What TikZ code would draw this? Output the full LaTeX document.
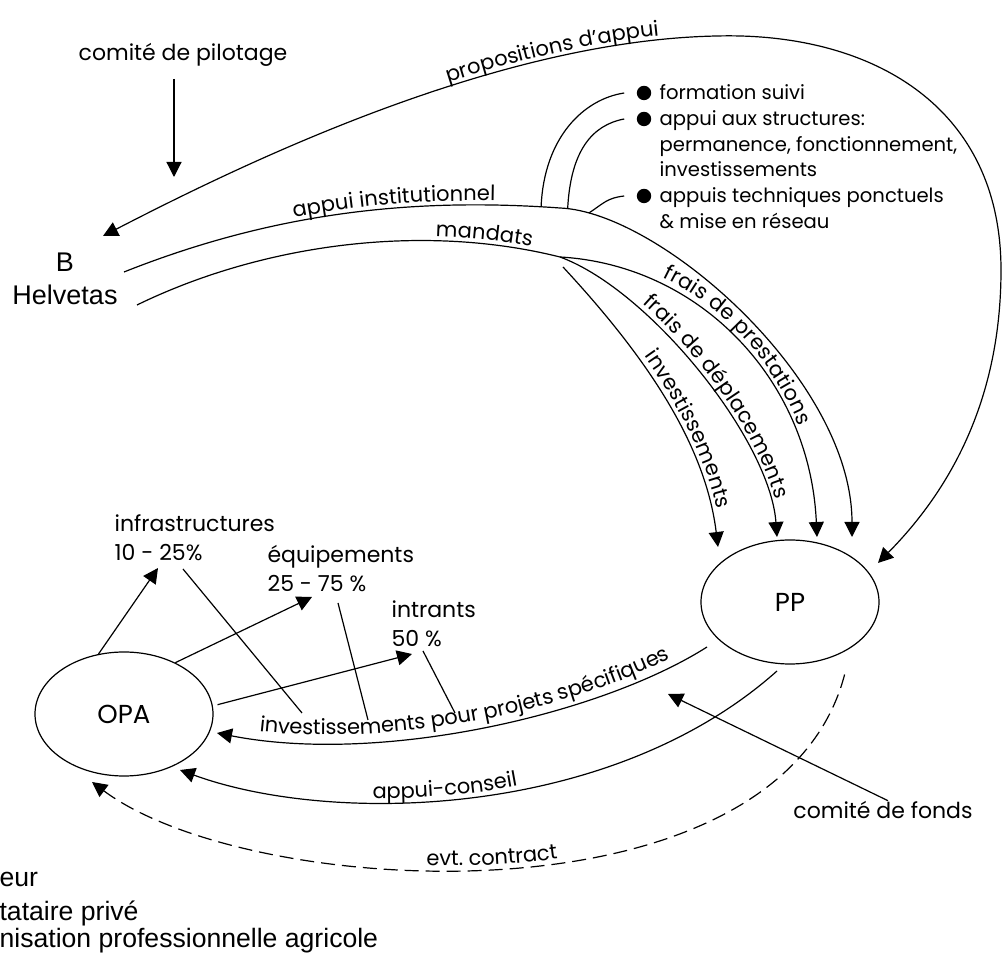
\documentclass[tikz,border=0pt]{standalone}
\usepackage{fontspec}
\setmainfont{Poppins}
\newfontfamily\arialfont{Liberation Sans}
\usetikzlibrary{arrows.meta, shapes.geometric, decorations.text}

\newcommand{\lblfont}{\fontsize{10.5}{12}\selectfont}

\tikzset{
  arr/.style={-{Triangle[length=7.5pt,width=7.5pt]}},
  rarr/.style={{Triangle[length=7.5pt,width=7.5pt]}-},
  darr/.style={{Triangle[length=7.5pt,width=7.5pt]}-{Triangle[length=7.5pt,width=7.5pt]}},
  lab/.style={font=\fontsize{11}{14.5}\selectfont, inner sep=0pt},
  listtxt/.style={font=\fontsize{9.8}{12.8}\selectfont, inner sep=0pt, align=left, anchor=north west},
  dot/.style={circle, fill, inner sep=0pt, minimum size=7.2pt},
  blob/.style={ellipse, draw, minimum width=89pt, minimum height=62pt, font=\fontsize{13}{15}\selectfont},
  legend/.style={font=\arialfont\fontsize{13.3}{15}\selectfont, inner sep=0pt, anchor=base west},
  along/.style n args={3}{postaction={decorate, decoration={text along path,
      text={|\lblfont|#1}, text align={left, left indent=#2}, raise=#3}}}
}

\begin{document}
\begin{tikzpicture}[x=0.5pt, y=-0.5pt, line width=0.6pt]
  \useasboundingbox (0,0) rectangle (1003,956);

  % actors
  \node[lab] (pilotage) at (183,55) {comité de pilotage};
  \node[font=\arialfont\fontsize{13.5}{16}\selectfont, inner sep=0pt] (B) at (65,262) {B};
  \node[font=\arialfont\fontsize{13.5}{16}\selectfont, inner sep=0pt] (helvetas) at (65,295) {Helvetas};
  \node[blob] (OPA) at (124,714) {OPA};
  \node[blob] (PP) at (790,602) {PP};
  \node[lab] (fonds) at (883,810) {comité de fonds};

  % free ends
  \coordinate (pil-a) at (174,79);
  \coordinate (pil-b) at (174,177);
  \coordinate (prop-b) at (103,236);
  \coordinate (inst-b) at (124,272);
  \coordinate (mand-b) at (137,305);
  \coordinate (pp-prop) at (878,563);
  \coordinate (pp-inst) at (852,537);
  \coordinate (pp-prest) at (817,537);
  \coordinate (pp-depl) at (777,537);
  \coordinate (pp-inv) at (718,547);
  \coordinate (pp-out-inv) at (707,647);
  \coordinate (pp-ac) at (777,671);
  \coordinate (pp-evt) at (845,673);
  \coordinate (opa-inv) at (217,733);
  \coordinate (opa-ac) at (180,770);
  \coordinate (opa-evt) at (92,782);
  \coordinate (fonds-tip) at (668,694);

  \draw[arr] (pil-a) -- (pil-b);

  % B -> PP
  \draw[darr, along={propositions d’appui}{189pt}{2pt}] (prop-b)
    .. controls (250,160) and (500,40) .. (717,36)
    .. controls (870,32) and (1001,105) .. (1001,270)
    .. controls (1001,400) and (950,490) .. (pp-prop);
  \draw[arr, along={appui institutionnel}{89pt}{2pt}] (inst-b)
    .. controls (280,210) and (420,198) .. (560,208) coordinate[pos=0.955] (fs-a)
    .. controls (660,212) and (852,380) .. (pp-inst) coordinate[pos=0.025] (as-a) coordinate[pos=0.09] (at-a);
  \draw[arr, along={mandats}{154pt}{2pt}, along={frais de déplacements}{264pt}{3pt}] (mand-b)
    .. controls (260,245) and (420,222) .. (560,257) coordinate (split)
    .. controls (650,290) and (770,440) .. (pp-depl);
  \draw[arr, along={frais de prestations}{52pt}{3pt}] (split)
    .. controls (700,265) and (810,380) .. (pp-prest);
  \draw[arr, along={investissements}{60pt}{3pt}] ([shift={(3,10)}]split)
    .. controls (640,350) and (705,440) .. (pp-inv);

  % kinds of support
  \node[dot] (dot1) at (644,93) {};
  \node[dot] (dot2) at (644,119) {};
  \node[dot] (dot3) at (644,196) {};
  \node[listtxt] (fs) at (659,84) {formation suivi};
  \node[listtxt] (as) at (659,110) {appui aux structures:\\permanence, fonctionnement,\\investissements};
  \node[listtxt] (at) at (659,187) {appuis techniques ponctuels\\\& mise en réseau};
  \draw (fs-a) .. controls +(3,-70) and +(-40,6) .. ([xshift=-6pt]dot1.west);
  \draw (as-a) .. controls +(3,-58) and +(-32,6) .. ([xshift=-6pt]dot2.west);
  \draw (at-a) .. controls +(15,-10) and +(-17,2) .. ([xshift=-6pt]dot3.west);

  % OPA side
  \node[lab, align=left, anchor=west] (infra) at (114,538) {infrastructures\\10 - 25\%};
  \node[lab, align=left, anchor=west] (equip) at (267,569) {équipements\\25 - 75 \%};
  \node[lab, align=left, anchor=west] (intr) at (391,624) {intrants\\50 \%};
  \coordinate (infra-tip) at (158,568);
  \coordinate (equip-tip) at (312,597);
  \coordinate (intr-tip) at (412,654);
  \draw[arr] (OPA.113) -- (infra-tip);
  \draw[arr] (OPA.45) -- (equip-tip);
  \draw[arr] ([xshift=2.5pt]OPA.6) -- (intr-tip);

  \draw[rarr, along={investissements pour projets spécifiques}{21pt}{4pt}] (opa-inv)
    .. controls (380,765) and (600,715) .. (pp-out-inv);
  \coordinate (inv-a) at (302,713);
  \coordinate (inv-b) at (368,720);
  \coordinate (inv-c) at (455,713);
  \coordinate (infra-out) at (183,569);
  \coordinate (equip-out) at (338,603);
  \coordinate (intr-out) at (423,651);
  \draw (infra-out) -- (inv-a);
  \draw (equip-out) -- (inv-b);
  \draw (intr-out) -- (inv-c);

  \draw[rarr, along={appui-conseil}{98pt}{2pt}] (opa-ac)
    .. controls (330,825) and (610,820) .. (pp-ac);
  \draw[rarr, dash pattern=on 7pt off 3.5pt, along={evt. contract}{175pt}{2pt}] (opa-evt)
    .. controls (250,900) and (780,930) .. (pp-evt);
  \draw[arr] ([xshift=2.5pt]fonds.north) -- (fonds-tip);

  % legend (cut at the left edge)
  \node[legend] (leg-b) at (-1,887) {eur};
  \node[legend] (leg-pp) at (-1,921) {tataire privé};
  \node[legend] (leg-opa) at (-1,948) {nisation professionnelle agricole};
\end{tikzpicture}
\end{document}
